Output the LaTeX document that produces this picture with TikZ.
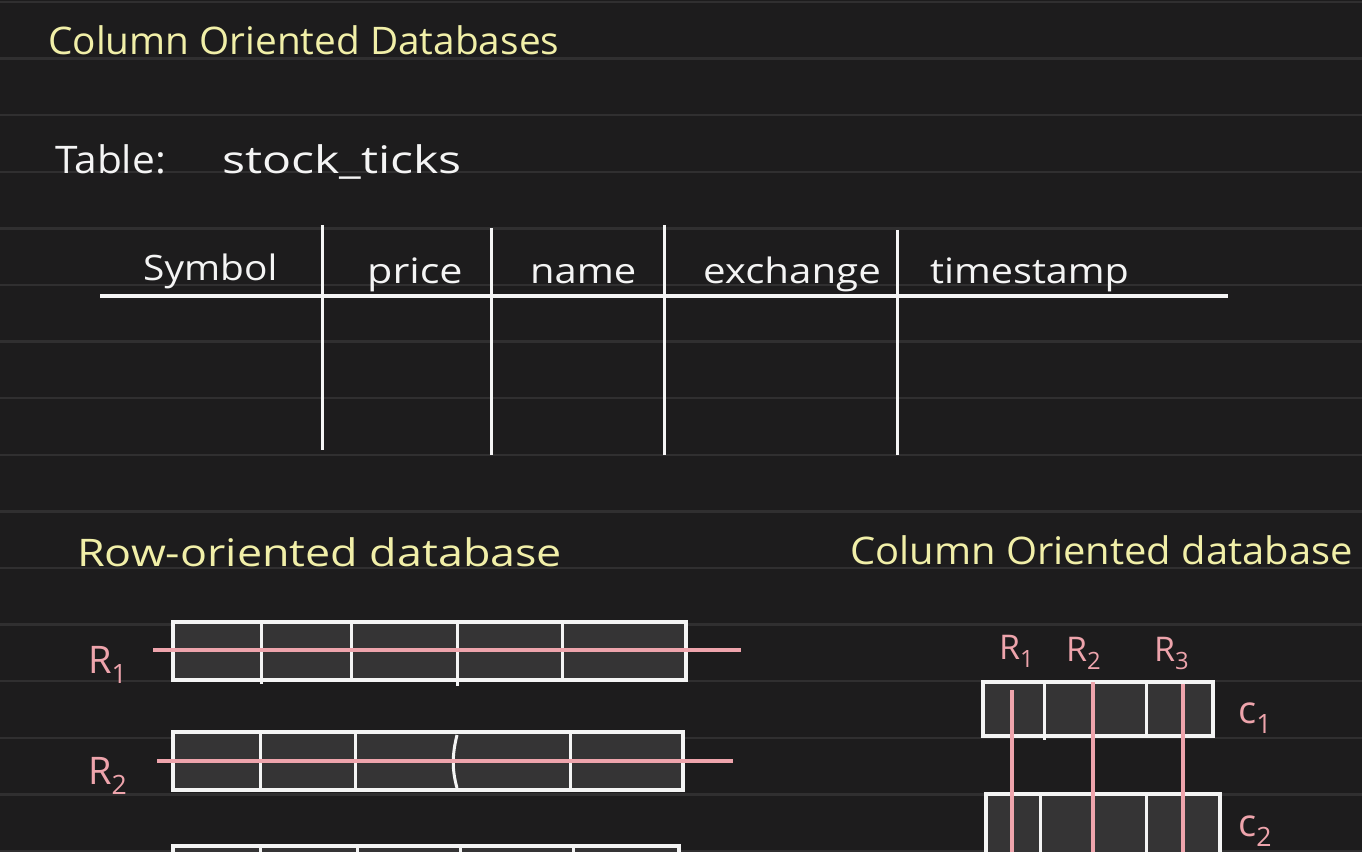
\documentclass[tikz,border=0pt]{standalone}
\usepackage{graphicx}
\usepackage{fontspec}
\setmainfont{Open Sans}
\definecolor{bg}{HTML}{1D1C1D}
\definecolor{rulec}{HTML}{302F30}
\definecolor{chalk}{HTML}{F4F4F4}
\definecolor{ylw}{HTML}{F1EFA8}
\definecolor{pinkc}{HTML}{EEA4AC}
\definecolor{cell}{HTML}{353435}
\newcommand{\hx}[2]{\scalebox{#1}[1]{#2}}
\tikzset{
  hand/.style={inner sep=0pt, anchor=base west, font=\fontsize{38}{42}\selectfont},
  head/.style={inner sep=0pt, anchor=base west, font=\fontsize{35}{40}\selectfont},
  lbl/.style={inner sep=0pt, anchor=base west, font=\fontsize{38}{42}\selectfont},
  chalkline/.style={draw=chalk, line width=3pt},
  pinkline/.style={draw=pinkc, line width=3.2pt},
  cellbox/.style={fill=cell, draw=chalk, line width=3.2pt}
}
\begin{document}
\begin{tikzpicture}[x=1pt,y=-1pt]
\useasboundingbox (0,0) rectangle (1362,851);
\clip (0,0) rectangle (1362,851);
\fill[bg] (0,0) rectangle (1362,851);
\foreach \k in {0,...,15}
  \draw[rulec, line width=2.4pt] (0,{2+56.6*\k}) -- (1362,{2+56.6*\k});

% titles
\node[hand, text=ylw] (title) at (48,55) {\hx{1.02}{Column Oriented Databases}};
\node[hand, text=chalk] (tbl) at (55,173) {\hx{1.07}{Table:}};
\node[hand, text=chalk] (tblname) at (222,173) {\hx{1.27}{stock\_ticks}};

% table
\draw[chalkline, line width=3.6pt] (100,296) -- (1228,296);
\draw[chalkline] (322,225) -- (322,450);
\draw[chalkline] (491,228) -- (491,455);
\draw[chalkline] (664,225) -- (664,455);
\draw[chalkline] (897,230) -- (897,455);
\node[head, text=chalk] (h1) at (143,280) {\hx{1.11}{Symbol}};
\node[head, text=chalk] (h2) at (367,283) {\hx{1.18}{price}};
\node[head, text=chalk] (h3) at (530,283) {\hx{1.14}{name}};
\node[head, text=chalk] (h4) at (703,283) {\hx{1.15}{exchange}};
\node[head, text=chalk] (h5) at (930,283) {\hx{1.13}{timestamp}};

% section titles
\node[hand, text=ylw] (rowt) at (77,566) {\hx{1.18}{Row-oriented database}};
\node[hand, text=ylw] (colt) at (850,564) {\hx{1.05}{Column Oriented database}};

% row-oriented
\path[cellbox] (173,622) rectangle (686,680);
\draw[chalkline] (261,622) -- (261,684);
\draw[chalkline] (351,622) -- (351,680);
\draw[chalkline] (457,622) -- (457,686);
\draw[chalkline] (562,622) -- (562,680);
\draw[pinkline] (153,650) -- (741,650);
\node[lbl, text=pinkc] (r1) at (88,673) {R\textsubscript{1}};

\path[cellbox] (173,732) rectangle (683,790);
\foreach \x in {260,355,570} \draw[chalkline] (\x,732) -- (\x,790);
\draw[chalkline] (457,735) .. controls (452,755) and (452,770) .. (457,788);
\draw[pinkline] (157,761) -- (733,761);
\node[lbl, text=pinkc] (r2) at (88,784) {R\textsubscript{2}};

\path[cellbox] (173,846) rectangle (679,880);
\foreach \x in {260,357,460,573} \draw[chalkline] (\x,846) -- (\x,880);

% column-oriented
\path[cellbox] (983,682) rectangle (1213,736);
\draw[chalkline] (1044,682) -- (1044,740);
\draw[chalkline] (1146,682) -- (1146,736);
\path[cellbox] (986,794) rectangle (1220,880);
\foreach \x in {1040,1146} \draw[chalkline] (\x,794) -- (\x,880);
\draw[pinkline] (1012,690) -- (1012,860);
\draw[pinkline] (1093,682) -- (1093,860);
\draw[pinkline] (1183,684) -- (1183,860);
\node[lbl, text=pinkc, font=\fontsize{34}{38}\selectfont] (cr1) at (999,659) {R\textsubscript{1}};
\node[lbl, text=pinkc, font=\fontsize{34}{38}\selectfont] (cr2) at (1066,661) {R\textsubscript{2}};
\node[lbl, text=pinkc, font=\fontsize{34}{38}\selectfont] (cr3) at (1154,661) {R\textsubscript{3}};
\node[lbl, text=pinkc] (c1) at (1238,723) {c\textsubscript{1}};
\node[lbl, text=pinkc] (c2) at (1238,836) {c\textsubscript{2}};
\end{tikzpicture}
\end{document}
